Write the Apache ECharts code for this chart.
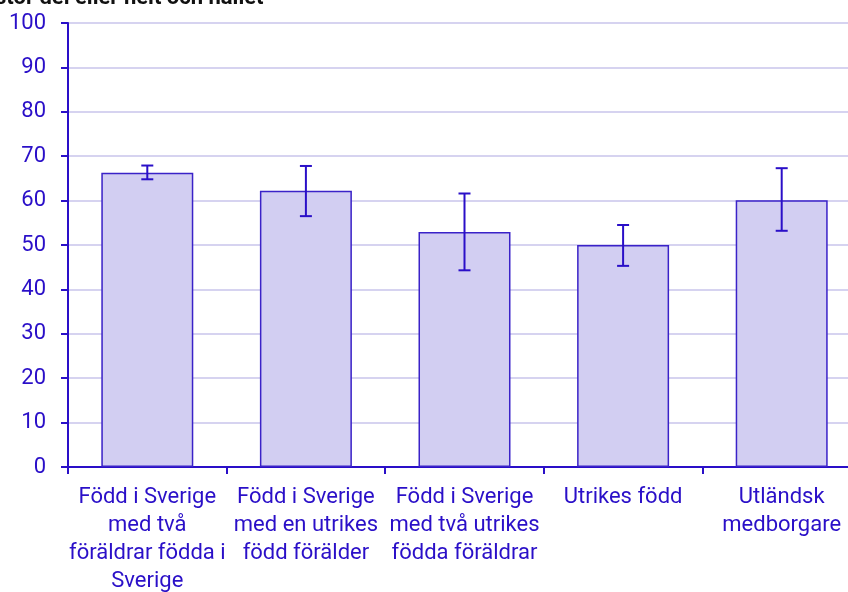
<!DOCTYPE html>
<html>
<head>
<meta charset="utf-8">
<script src="https://cdn.jsdelivr.net/npm/echarts@6/dist/echarts.min.js"></script>
<style>
  html, body { margin: 0; padding: 0; background: #fff; }
  #main { width: 848px; height: 592px; }
</style>
</head>
<body>
<div id="main"></div>
<script>
var categories = [
    'Född i Sverige\nmed två\nföräldrar födda i\nSverige',
    'Född i Sverige\nmed en utrikes\nfödd förälder',
    'Född i Sverige\nmed två utrikes\nfödda föräldrar',
    'Utrikes född',
    'Utländsk\nmedborgare'
];
var values = [66.3, 62.2, 52.9, 50.0, 60.1];
var lower = [64.8, 56.5, 44.3, 45.3, 53.2];
var upper = [67.9, 67.8, 61.6, 54.5, 67.3];

var ink = '#2a0fc8';
var chart = echarts.init(document.getElementById('main'));

var errData = values.map(function (v, i) { return [i, lower[i], upper[i]]; });

var option = {
    animation: false,
    textStyle: { fontFamily: 'Roboto' },
    graphic: [{
        type: 'text',
        left: -5,
        top: -13,
        style: {
            text: 'stor del eller helt och hållet',
            font: 'bold 22px Roboto',
            fill: '#111'
        }
    }],
    grid: { left: 68, top: 23, width: 793, height: 444, outerBoundsMode: 'none', containLabel: false },
    xAxis: {
        type: 'category',
        data: categories,
        axisLine: { lineStyle: { color: ink, width: 2 } },
        axisTick: { show: true, length: 7, lineStyle: { color: ink, width: 2 } },
        axisLabel: { color: ink, fontSize: 22, lineHeight: 28, margin: 16, interval: 0, fontFamily: 'Roboto' }
    },
    yAxis: {
        type: 'value',
        min: 0,
        max: 100,
        interval: 10,
        axisLine: { show: true, lineStyle: { color: ink, width: 2 } },
        axisTick: { show: true, length: 7, lineStyle: { color: ink, width: 2 } },
        axisLabel: { color: ink, fontSize: 22, margin: 22, fontFamily: 'Roboto' },
        splitLine: { lineStyle: { color: '#d6d3f0', width: 2 } }
    },
    series: [{
        type: 'bar',
        data: values,
        barCategoryGap: '42%',
        itemStyle: { color: '#d2cef2', borderColor: '#3a22c8', borderWidth: 1.5 }
    }, {
        type: 'custom',
        data: errData,
        z: 5,
        renderItem: function (params, api) {
            var lo = api.coord([api.value(0), api.value(1)]);
            var hi = api.coord([api.value(0), api.value(2)]);
            var w = 6;
            var style = { stroke: ink, lineWidth: 2 };
            return {
                type: 'group',
                children: [
                    { type: 'line', shape: { x1: lo[0], y1: lo[1], x2: hi[0], y2: hi[1] }, style: style },
                    { type: 'line', shape: { x1: lo[0] - w, y1: lo[1], x2: lo[0] + w, y2: lo[1] }, style: style },
                    { type: 'line', shape: { x1: hi[0] - w, y1: hi[1], x2: hi[0] + w, y2: hi[1] }, style: style }
                ]
            };
        }
    }]
};

chart.setOption(option);
</script>
</body>
</html>
